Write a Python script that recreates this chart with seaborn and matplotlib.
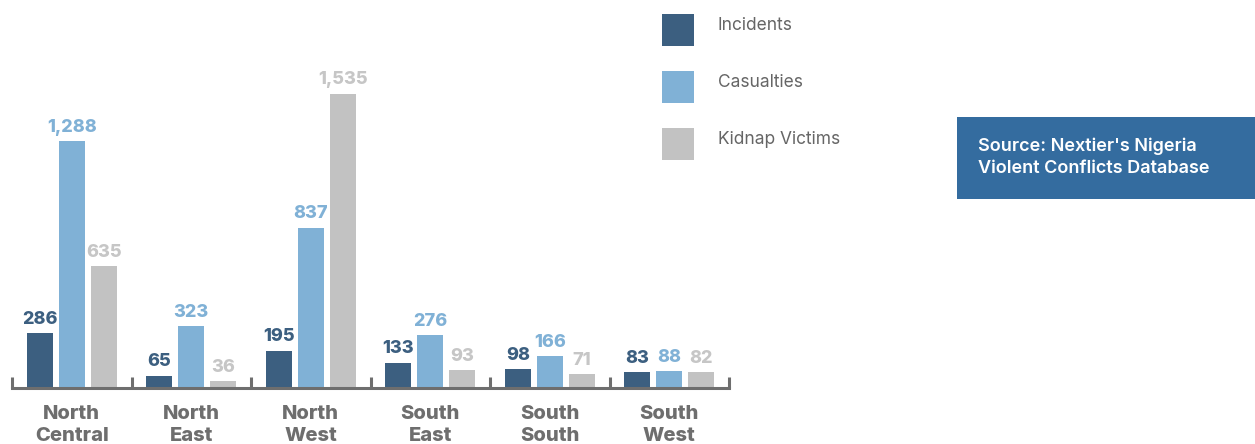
import matplotlib
matplotlib.use("Agg")
import matplotlib.pyplot as plt
from matplotlib.patches import Rectangle
import seaborn as sns
import pandas as pd

regions = ["North\nCentral", "North\nEast", "North\nWest", "South\nEast", "South\nSouth", "South\nWest"]
incidents = [286, 65, 195, 133, 98, 83]
casualties = [1288, 323, 837, 276, 166, 88]
kidnap_victims = [635, 36, 1535, 93, 71, 82]
series_names = ["Incidents", "Casualties", "Kidnap Victims"]

bar_colors = ["#3c5f80", "#80b1d6", "#c2c2c2"]
label_colors = ["#3c5f80", "#80b1d6", "#c6c6c6"]

df = pd.DataFrame({
    "region": regions * 3,
    "series": [s for s in series_names for _ in regions],
    "value": incidents + casualties + kidnap_victims,
})

sns.set_theme(style="white")
plt.rcParams["font.family"] = ["Inter", "DejaVu Sans"]

W, H = 1255, 444
fig = plt.figure(figsize=(W / 100, H / 100), dpi=100)
ax = fig.add_axes([12 / W, 56 / H, (729 - 12) / W, 388 / H])

sns.barplot(data=df, x="region", y="value", hue="series", hue_order=series_names,
            order=regions, palette=bar_colors, width=0.8, gap=0.18,
            saturation=1, legend=True, ax=ax, edgecolor="none")

for cont, col in zip(ax.containers, label_colors):
    ax.bar_label(cont, labels=[f"{v:,.0f}" for v in cont.datavalues],
                 padding=4, color=col, fontsize=13, fontweight=800)

ax.set_xlim(-0.5, 5.5)
ax.set_ylim(0, 388 / 0.1915)
ax.set_xlabel("")
ax.set_ylabel("")
ax.set_yticks([])
for side in ["left", "right", "top"]:
    ax.spines[side].set_visible(False)
ax.spines["bottom"].set_color("#6e6e6e")
ax.spines["bottom"].set_linewidth(2.2)

ax.set_xticks(range(len(regions)))
ax.set_xticklabels(regions, fontsize=14.5, fontweight=800, color="#6e6e6e", linespacing=1.32)
ax.tick_params(axis="x", which="major", length=0, pad=12)
ax.set_xticks([i - 0.5 for i in range(len(regions) + 1)], minor=True)
ax.tick_params(axis="x", which="minor", direction="in", length=8, width=2.2, color="#6e6e6e", bottom=True)

handles, labels = ax.get_legend_handles_labels()
ax.get_legend().remove()
leg = fig.legend(handles, labels, loc="upper left", bbox_to_anchor=(662 / W, 1 - 14 / H),
                 frameon=False, fontsize=12.5, handlelength=1.85, handleheight=2.45,
                 handletextpad=1.35, labelspacing=1.45, borderpad=0, borderaxespad=0,
                 labelcolor="#666666")
for t in leg.get_texts():
    t.set_y(5)

fig.add_artist(Rectangle((957 / W, 1 - 199 / H), (W - 957) / W, 82 / H,
                         transform=fig.transFigure, facecolor="#346c9f", edgecolor="none"))
fig.text(978 / W, 1 - 157 / H, "Source: Nextier's Nigeria\nViolent Conflicts Database",
         color="white", fontsize=13, fontweight="semibold", va="center", ha="left",
         linespacing=1.35)

fig.savefig("out.png", dpi=100)
